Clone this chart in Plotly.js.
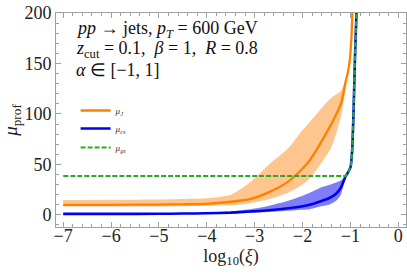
<!DOCTYPE html>
<html>
<head>
<meta charset="utf-8">
<script src="https://cdn.plot.ly/plotly-3.0.1.min.js"></script>
<style>html,body{margin:0;padding:0;background:#fff;}#chart{width:407px;height:276px;}</style>
</head>
<body>
<div id="chart"></div>
<script>
// mu_J (orange) central
const xJ      = [-7, -6, -5, -4.5, -4, -3.5, -3.1, -2.7, -2.3, -2.0, -1.85, -1.6, -1.4, -1.2, -1.1, -1.05, -1.015, -0.98, -0.96, -0.94];
const muJ     = [10, 10, 10.2, 10.5, 11, 13, 15.5, 22.5, 33, 46, 54, 73, 90, 110, 132, 142, 153, 175, 200, 225];
// mu_J band
const xJb     = [-7, -6, -5, -4.5, -4, -3.5, -3.1, -2.7, -2.3, -2.0, -1.85, -1.6, -1.4, -1.2, -1.1, -1.05];
const muJUp   = [14.8, 15, 15.2, 15.8, 16.5, 20, 32, 50, 66, 84, 92, 106, 116, 123, 134, 142];
const muJLo   = [8.3, 8.3, 8.4, 8.6, 9, 9.5, 11.6, 15.5, 22, 30, 36, 52, 67, 97, 126, 142];
// mu_cs (blue) band
const xCSb    = [-7, -6, -5, -4.5, -4, -3.5, -3.1, -2.7, -2.3, -2.0, -1.85, -1.65, -1.45, -1.3, -1.2, -1.1];
const muCSUp  = [1.3, 1.3, 1.5, 1.8, 2.2, 3.3, 5.5, 9, 14, 19, 22, 26.5, 29.5, 32, 34, 38.5];
const muCSLo  = [0.7, 0.7, 0.8, 0.9, 1.1, 1.4, 2.0, 2.8, 4, 5, 5.5, 8, 10, 14, 20, 38.5];
// mu_cs (blue) central
const xCS     = [-7, -6, -5, -4.5, -4, -3.5, -3.1, -2.7, -2.3, -2.0, -1.85, -1.65, -1.45, -1.3, -1.2, -1.1, -1.07, -1.04, -1.0, -0.98, -0.96, -0.94, -0.92, -0.9, -0.885, -0.875, -0.86];
const muCS    = [1, 1, 1.1, 1.3, 1.6, 2.2, 3.3, 4.6, 6.5, 8.5, 10, 13, 16.5, 21, 27, 38.5, 40.5, 43, 47, 54, 68, 95, 130, 165, 185, 200, 225];
// mu_gs (green)
const xGS     = [-7, -5, -3, -1.5, -1.15, -1.1, -1.07, -1.04, -1.0, -0.98, -0.96, -0.94, -0.92, -0.9, -0.885, -0.875, -0.86];
const muGS    = [38.5, 38.5, 38.5, 38.5, 38.5, 38.5, 40.5, 43, 47, 54, 68, 95, 130, 165, 185, 200, 225];

const xTickVals = [-7, -6, -5, -4, -3, -2, -1, 0];
const yTickVals = [0, 50, 100, 150, 200];

function band(xs, up, lo) {
  return {x: xs.concat(xs.slice().reverse()), y: up.concat(lo.slice().reverse())};
}
const bJ = band(xJb, muJUp, muJLo);
const bCS = band(xCSb, muCSUp, muCSLo);
const serif = 'Liberation Serif';

const traces = [
  {x: bJ.x, y: bJ.y, type: 'scatter', mode: 'lines', fill: 'toself',
   fillcolor: 'rgba(255,140,30,0.5)', line: {width: 0, shape: 'spline', smoothing: 0.7}, showlegend: false, hoverinfo: 'skip'},
  {x: bCS.x, y: bCS.y, type: 'scatter', mode: 'lines', fill: 'toself',
   fillcolor: 'rgba(20,20,240,0.55)', line: {width: 0, shape: 'spline', smoothing: 0.7}, showlegend: false, hoverinfo: 'skip'},
  {x: xJ, y: muJ, type: 'scatter', mode: 'lines', name: '<i>μ<sub>J</sub></i>', legend: 'legend',
   line: {color: 'rgb(255,128,0)', width: 2.3, shape: 'spline', smoothing: 0.7}},
  {x: xCS, y: muCS, type: 'scatter', mode: 'lines', name: '<i>μ<sub>cs</sub></i>', legend: 'legend2',
   line: {color: 'rgb(0,0,240)', width: 2.6, shape: 'spline', smoothing: 0.5}},
  {x: xGS, y: muGS, type: 'scatter', mode: 'lines', name: '<i>μ<sub>gs</sub></i>', legend: 'legend3',
   line: {color: 'rgb(40,170,40)', width: 2.2, dash: '5px,2px', shape: 'spline', smoothing: 0.5}}
];

const axCommon = {
  showline: true, linecolor: '#a0a0a0', linewidth: 1, mirror: 'allticks',
  ticks: 'inside', ticklen: 5, tickcolor: '#a0a0a0', tickwidth: 1,
  showgrid: false, zeroline: false,
  tickfont: {family: serif, size: 18, color: '#222'}
};

function leg(pyTop) {
  return {x: 0.056, y: (227 - pyTop) / 214, xanchor: 'left', yanchor: 'top', bgcolor: 'rgba(0,0,0,0)',
          font: {family: serif, size: 9, color: '#333'}};
}

const layout = {
  width: 407, height: 276,
  margin: {l: 56, r: 1, t: 13, b: 49},
  paper_bgcolor: '#fff', plot_bgcolor: '#fff',
  font: {family: serif},
  xaxis: Object.assign({}, axCommon, {
    range: [-7.15, 0.16], tickvals: xTickVals, ticklabelstandoff: -8,
    minor: {dtick: 0.2, tick0: 0, ticks: 'inside', ticklen: 3, tickcolor: '#a0a0a0'},
    title: {text: 'log<sub>10</sub>(<i>ξ</i>)', font: {family: serif, size: 18, color: '#222'}, standoff: 1}
  }),
  yaxis: Object.assign({}, axCommon, {
    range: [-12, 200], tickvals: yTickVals,
    minor: {dtick: 10, tick0: 0, ticks: 'inside', ticklen: 3, tickcolor: '#a0a0a0'},
    title: {text: '<i>μ</i><sub>prof</sub>', font: {family: serif, size: 19, color: '#222'}, standoff: 10}
  }),
  showlegend: true,
  legend: leg(96),
  legend2: leg(114),
  legend3: leg(133),
  annotations: [
    {text: '<i>pp</i> → jets, <i>p<sub>T</sub></i> = 600 GeV', xref: 'paper', yref: 'paper',
     x: 0.054, y: (227 - 30) / 214, xanchor: 'left', yanchor: 'middle', showarrow: false, borderpad: 0,
     font: {family: serif, size: 18, color: '#111'}},
    {text: '<i>z</i><sub>cut</sub> = 0.1,  <i>β</i> = 1,  <i>R</i> = 0.8', xref: 'paper', yref: 'paper',
     x: 0.054, y: (227 - 50) / 214, xanchor: 'left', yanchor: 'middle', showarrow: false, borderpad: 0,
     font: {family: serif, size: 18, color: '#111'}},
    {text: '<i>α</i> ∈ [−1, 1]', xref: 'paper', yref: 'paper',
     x: 0.054, y: (227 - 70) / 214, xanchor: 'left', yanchor: 'middle', showarrow: false, borderpad: 0,
     font: {family: serif, size: 18, color: '#111'}}
  ]
};

Plotly.newPlot('chart', traces, layout, {staticPlot: true, displayModeBar: false});
</script>
</body>
</html>
